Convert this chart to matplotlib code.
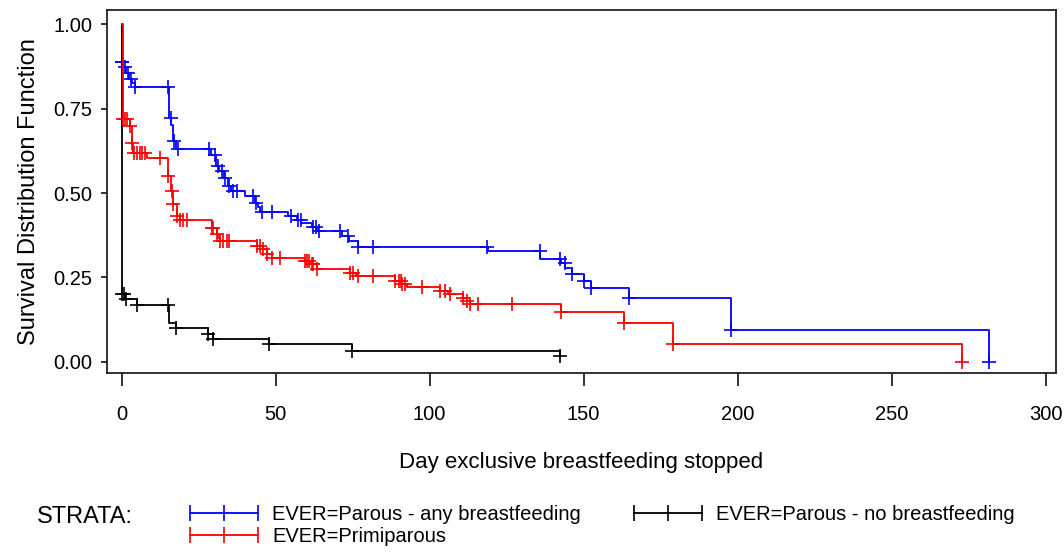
import numpy as np
import matplotlib
matplotlib.use("Agg")
import matplotlib.pyplot as plt
from matplotlib.lines import Line2D

plt.rcParams['font.family'] = ['Liberation Sans', 'DejaVu Sans']

# Kaplan-Meier steps: event times (days) and survival after each drop
parous_bf_times = [0.0, 0.5, 1.5, 2.5, 3.5, 4.5, 15.3, 16.2, 16.8, 17.6, 29.1, 30.8, 31.8, 33.2,
                   34.5, 35.5, 40.1, 43.3, 44.3, 45.0, 54.2, 57.0, 58.4, 61.7, 63.5, 71.5, 73.8,
                   76.9, 119.1, 136.0, 142.6, 144.0, 146.2, 150.2, 152.4, 164.8, 198.0, 281.6]
parous_bf_surv = [0.888, 0.872, 0.855, 0.838, 0.826, 0.814, 0.723, 0.700, 0.654, 0.630, 0.612,
                  0.580, 0.565, 0.545, 0.520, 0.506, 0.490, 0.471, 0.458, 0.444, 0.432, 0.420,
                  0.410, 0.400, 0.387, 0.373, 0.358, 0.340, 0.328, 0.306, 0.294, 0.278, 0.261,
                  0.240, 0.219, 0.189, 0.095, 0.0]
parous_bf_censor = [0.0, 0.3, 1.0, 2.0, 3.0, 4.5, 15.0, 16.0, 17.0, 18.2, 28.3, 30.3, 31.4, 32.6,
                    33.6, 35.0, 36.3, 37.5, 42.8, 43.8, 45.5, 48.8, 55.0, 57.3, 58.2, 62.3, 63.2,
                    64.0, 70.9, 73.6, 76.9, 81.8, 118.8, 135.8, 142.3, 143.9, 146.2, 150.2, 152.4,
                    164.8, 198.0, 281.6]

primiparous_times = [0.5, 2.8, 3.3, 3.8, 8.2, 15.2, 16.0, 16.8, 17.9, 19.0, 29.3, 30.9, 31.4, 32.0,
                     43.9, 46.0, 47.1, 48.8, 59.6, 61.2, 63.4, 74.2, 76.0, 88.8, 91.0, 92.6, 103.4,
                     106.0, 110.8, 112.1, 113.1, 142.7, 163.1, 179.0, 272.9]
primiparous_surv = [0.718, 0.698, 0.649, 0.619, 0.604, 0.550, 0.506, 0.467, 0.432, 0.420, 0.397,
                    0.378, 0.367, 0.358, 0.343, 0.334, 0.320, 0.309, 0.299, 0.290, 0.275, 0.264,
                    0.254, 0.240, 0.230, 0.222, 0.210, 0.200, 0.190, 0.180, 0.172, 0.149, 0.116,
                    0.054, 0.0]
primiparous_censor = [0.5, 1.0, 1.8, 2.8, 3.3, 4.0, 5.0, 6.0, 6.8, 7.5, 12.5, 15.2, 16.3, 16.8,
                      17.9, 19.0, 20.0, 21.2, 29.3, 29.8, 31.0, 32.0, 33.1, 34.1, 35.0, 43.9,
                      45.0, 46.0, 47.1, 48.8, 51.5, 59.6, 60.1, 61.0, 61.7, 62.3, 63.4, 74.2,
                      75.3, 76.9, 81.8, 88.8, 90.0, 90.6, 91.2, 92.0, 97.4, 103.4, 105.0, 106.6,
                      111.0, 112.1, 113.1, 115.9, 126.9, 142.7, 163.1, 179.0, 272.9]

parous_nobf_times = [0.0, 1.0, 5.0, 15.3, 17.8, 28.0, 29.6, 48.0, 74.9, 142.3]
parous_nobf_surv = [0.200, 0.186, 0.169, 0.116, 0.100, 0.083, 0.067, 0.052, 0.033, 0.016]
parous_nobf_censor = [0.0, 0.8, 1.5, 5.0, 15.0, 17.8, 28.0, 29.6, 48.0, 74.9, 142.3]

x_ticks = [0, 50, 100, 150, 200, 250, 300]
y_ticks = [0.0, 0.25, 0.5, 0.75, 1.0]

groups = [
    ("EVER=Parous - any breastfeeding", parous_bf_times, parous_bf_surv, parous_bf_censor, "#0000ff"),
    ("EVER=Parous - no breastfeeding", parous_nobf_times, parous_nobf_surv, parous_nobf_censor, "#000000"),
    ("EVER=Primiparous", primiparous_times, primiparous_surv, primiparous_censor, "#ff0000"),
]


def surv_at(xs, ys, t):
    # value of the post-step function at time t
    idx = np.searchsorted(xs, t, side='right') - 1
    return ys[max(idx, 0)]


fig = plt.figure(figsize=(10.64, 5.52), dpi=100)
ax = fig.add_axes([0.1006, 0.3243, 0.8919, 0.6576])

for label, times, surv, censor, color in groups:
    xs = np.array([0.0] + list(times))
    ys = np.array([1.0] + list(surv))
    ax.step(xs, ys, where='post', color=color, lw=1.3)
    cy = [surv_at(xs, ys, t) for t in censor]
    ax.plot(censor, cy, ls='none', marker='+', ms=10, mew=1.2, color=color)

ax.set_xlim(-4.7, 303.4)
ax.set_ylim(-0.033, 1.042)
ax.set_xticks(x_ticks)
ax.set_xticklabels([str(v) for v in x_ticks])
ax.set_yticks(y_ticks)
ax.set_yticklabels([f"{v:.2f}" for v in y_ticks])
for s in ax.spines.values():
    s.set_linewidth(1.3)
    s.set_color('#222222')
ax.tick_params(axis='x', length=9, width=1.3, pad=14, labelsize=14.5, color='#222222')
ax.tick_params(axis='y', length=4.5, width=1.3, pad=6, labelsize=14.5, color='#222222')

ax.set_xlabel("Day exclusive breastfeeding stopped", fontsize=16, labelpad=20)
ax.set_ylabel("Survival Distribution Function", fontsize=17, labelpad=10)

# legend drawn by hand to match the SAS layout
fig.text(37 / 1064, 1 - 517 / 552, "STRATA:", fontsize=17, va='center', ha='left')
leg_items = [
    (190, 513, groups[0]),
    (190, 535, groups[2]),
    (634, 513, groups[1]),
]
for x0, y0, g in leg_items:
    fx = np.array([x0, x0 + 34, x0 + 68]) / 1064
    fy = np.full(3, 1 - y0 / 552)
    fig.add_artist(Line2D(fx, fy, transform=fig.transFigure, color=g[4], lw=1.3,
                          marker='|', ms=12, mew=1.2))
    fig.text((x0 + 82) / 1064, 1 - (y0 + 2) / 552, g[0], fontsize=14.5, va='center', ha='left')

fig.savefig("out.png", dpi=100)
